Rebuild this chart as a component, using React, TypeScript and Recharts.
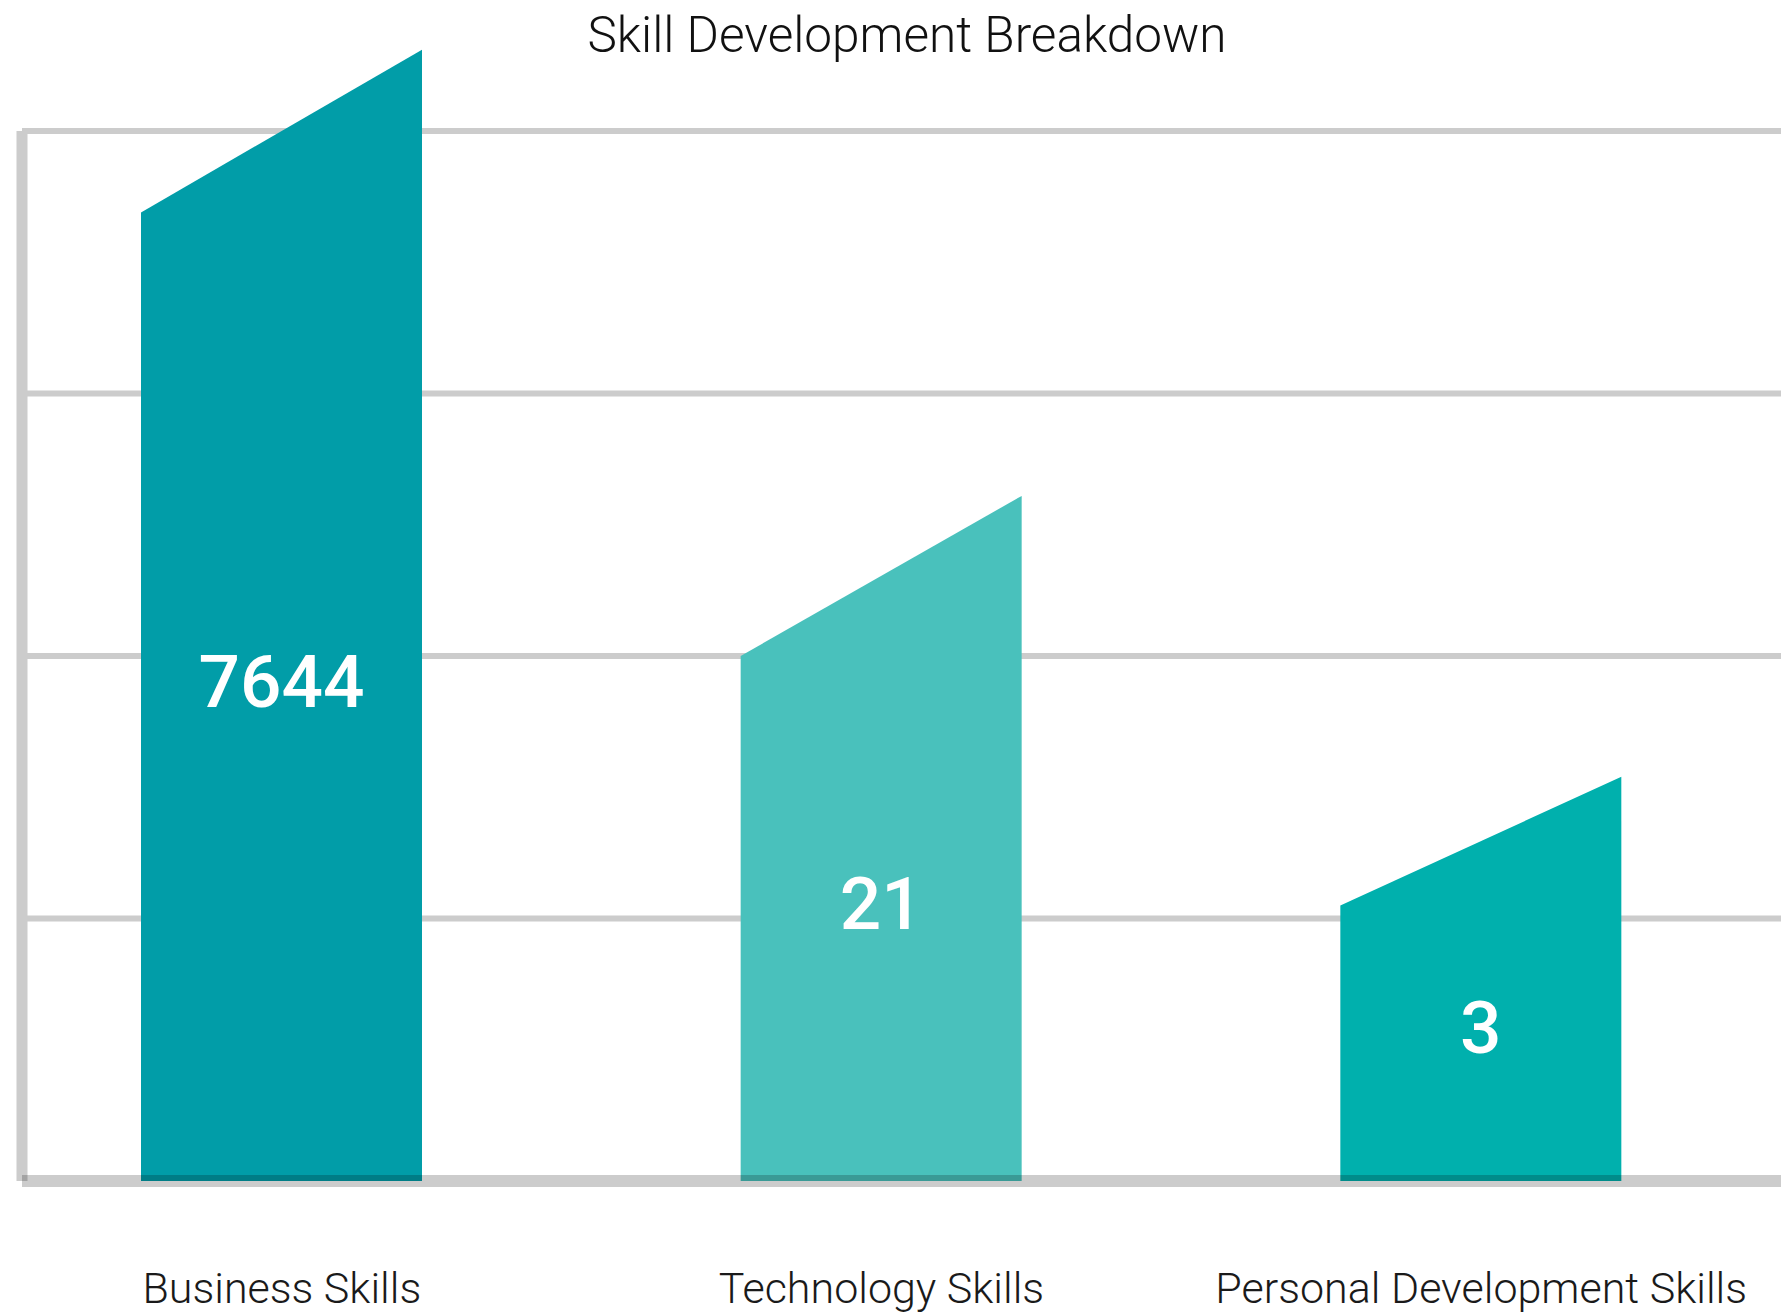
import React from 'react';
import { BarChart, Bar, XAxis, YAxis, CartesianGrid, LabelList, Cell } from 'recharts';

// Categories and displayed values
const categories = ['Business Skills', 'Technology Skills', 'Personal Development Skills'];
const values = [7644, 21, 3];
// Visual bar levels, in grid units (left shoulder and right peak of each bar)
const shoulderLevels = [3.69, 2.0, 1.05];
const peakLevels = [4.31, 2.61, 1.54];
const yTicks = [0, 1, 2, 3, 4];
const gridValues = [1, 2, 3, 4];
const colors = ['#019DA8', '#49C1BC', '#00B0AD'];

const data = categories.map((name, i) => ({
  name,
  value: values[i],
  shoulder: shoulderLevels[i],
  peak: peakLevels[i],
}));

const FONT = 'Roboto, "Noto Sans", sans-serif';

const SlantBar = (props: any) => {
  const { x, y, width, height, payload, fill } = props;
  if (height == null || height <= 0) return null;
  const bottom = y + height;
  const unit = height / payload.shoulder;
  const peakY = bottom - payload.peak * unit;
  const d = `M${x},${bottom} L${x},${y} L${x + width},${peakY} L${x + width},${bottom} Z`;
  return <path d={d} fill={fill} />;
};

const ValueLabel = (props: any) => {
  const { x, y, width, height, value } = props;
  return (
    <text
      x={x + width / 2}
      y={y + height / 2 - 15}
      fill="#ffffff"
      fontSize={73}
      fontWeight={500}
      fontFamily={FONT}
      textAnchor="middle"
      dominantBaseline="central"
    >
      {value}
    </text>
  );
};

const CategoryTick = (props: any) => {
  const { x, y, payload } = props;
  return (
    <text
      x={x}
      y={y + 114}
      fill="#1a1a1a"
      fontSize={43}
      fontWeight={300}
      fontFamily={FONT}
      textAnchor="middle"
    >
      {payload.value}
    </text>
  );
};

const EmptyTick = () => <g />;

export default function App() {
  return (
    <div style={{ position: 'absolute', left: 0, top: 0, width: 1781, height: 1314, background: '#ffffff' }}>
      <div
        style={{
          position: 'absolute',
          left: 907,
          top: 7,
          transform: 'translateX(-50%)',
          whiteSpace: 'nowrap',
          fontFamily: FONT,
          fontSize: 49.5,
          fontWeight: 300,
          color: '#111111',
          lineHeight: '56px',
        }}
      >
        Skill Development Breakdown
      </div>
      <BarChart
        width={1781}
        height={1314}
        data={data}
        margin={{ top: 131, right: 0, bottom: 0, left: 0 }}
        barSize={281}
      >
        <CartesianGrid
          vertical={false}
          horizontalValues={gridValues}
          stroke="#cccccc"
          strokeWidth={6}
        />
        <YAxis
          type="number"
          domain={[0, 4]}
          ticks={yTicks}
          width={22}
          tick={<EmptyTick />}
          tickLine={false}
          axisLine={{ stroke: '#cccccc', strokeWidth: 11 }}
        />
        <Bar dataKey="shoulder" isAnimationActive={false} shape={<SlantBar />}>
          {data.map((_, i) => (
            <Cell key={i} fill={colors[i]} />
          ))}
          <LabelList dataKey="value" content={<ValueLabel />} />
        </Bar>
        <XAxis
          dataKey="name"
          height={133}
          interval={0}
          padding={{ left: -40, right: 0 }}
          tickLine={false}
          tick={<CategoryTick />}
          axisLine={{ stroke: '#000000', strokeOpacity: 0.2, strokeWidth: 12 }}
        />
      </BarChart>
    </div>
  );
}
